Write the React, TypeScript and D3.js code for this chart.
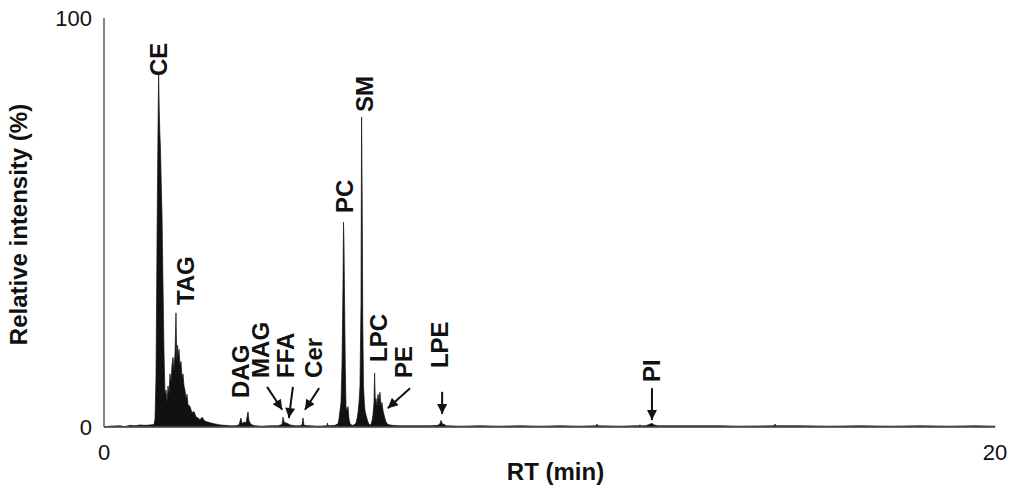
import * as d3 from "d3";
import React, { useRef, useEffect } from "react";

// retention time (min) and relative intensity (%)
const rtValues = [
  0, 0.135, 0.359, 0.471, 0.584, 0.696, 0.808, 0.92, 1.033, 1.122,
  1.145, 1.167, 1.19, 1.201, 1.212, 1.226, 1.239, 1.253, 1.268, 1.284,
  1.302, 1.324, 1.347, 1.369, 1.392, 1.414, 1.437, 1.459, 1.481, 1.504,
  1.526, 1.549, 1.571, 1.594, 1.616, 1.634, 1.65, 1.668, 1.684, 1.706,
  1.728, 1.751, 1.773, 1.796, 1.818, 1.841, 1.863, 1.886, 1.93, 1.975,
  2.02, 2.065, 2.11, 2.155, 2.2, 2.267, 2.334, 2.424, 2.514, 2.604,
  2.716, 2.828, 2.963, 3.03, 3.075, 3.098, 3.143, 3.187, 3.232, 3.255,
  3.3, 3.389, 3.547, 3.726, 3.906, 3.996, 4.018, 4.04, 4.085, 4.13,
  4.175, 4.287, 4.4, 4.444, 4.467, 4.489, 4.624, 4.804, 5.006, 5.017,
  5.028, 5.185, 5.253, 5.275, 5.297, 5.32, 5.342, 5.365, 5.376, 5.387,
  5.401, 5.416, 5.432, 5.455, 5.477, 5.499, 5.522, 5.567, 5.612, 5.657,
  5.679, 5.701, 5.724, 5.746, 5.769, 5.782, 5.796, 5.809, 5.825, 5.843,
  5.859, 5.881, 5.903, 5.926, 5.948, 5.971, 5.993, 6.016, 6.038, 6.061,
  6.074, 6.09, 6.105, 6.128, 6.15, 6.173, 6.195, 6.218, 6.24, 6.263,
  6.285, 6.308, 6.33, 6.375, 6.465, 6.644, 6.869, 7.093, 7.318, 7.497,
  7.542, 7.565, 7.587, 7.609, 7.632, 7.677, 7.991, 8.44, 8.889, 9.338,
  9.787, 10.236, 10.685, 11.044, 11.066, 11.089, 11.582, 11.919, 12.0, 12.031,
  12.06, 12.144, 12.211, 12.278, 12.301, 12.346, 12.435, 12.929, 13.378, 13.827,
  14.276, 15.04, 15.062, 15.085, 15.623, 16.296, 16.97, 17.643, 18.316, 18.99,
  19.551, 20,
];
const intensityValues = [
  0, 0.2, 0.3, 0.1, 0.4, 0.3, 0.5, 0.4, 0.5, 0.6,
  2, 12, 45, 60, 72, 86.8, 78, 72, 68, 60,
  52, 35, 18, 8, 9, 6, 10, 8, 13, 11,
  15, 17, 14, 18, 27.9, 16, 20, 17, 19, 15,
  16, 12, 13, 10, 9, 7, 8, 5.5, 5, 3.5,
  3.8, 2.5, 2.2, 1.8, 2.4, 1.4, 1.2, 0.9, 0.7, 0.5,
  0.4, 0.3, 0.3, 0.5, 2.2, 0.8, 1.2, 1, 3.7, 1.5,
  0.6, 0.3, 0.2, 0.3, 0.3, 0.6, 2.4, 1.2, 1, 0.8,
  0.5, 0.3, 0.3, 0.5, 2.2, 0.4, 0.3, 0.2, 0.3, 1,
  0.3, 0.4, 0.8, 2, 4, 6, 15, 35, 50.1, 45,
  30, 15, 5, 4, 5, 2, 0.8, 0.4, 0.5, 1,
  2, 3.5, 6, 10, 30, 75.8, 55, 25, 10, 6,
  4, 3, 2, 1.2, 0.7, 0.5, 0.6, 1.5, 3, 6,
  13.2, 6, 7, 5, 8, 6.5, 8.5, 5, 6, 4,
  3, 2, 1.2, 0.6, 0.4, 0.3, 0.3, 0.3, 0.3, 0.4,
  0.8, 1.6, 1, 0.6, 0.7, 0.3, 0.2, 0.3, 0.2, 0.3,
  0.2, 0.3, 0.2, 0.3, 0.7, 0.3, 0.2, 0.3, 0.3, 0.5,
  0.3, 0.3, 0.5, 0.8, 0.9, 0.5, 0.3, 0.3, 0.3, 0.3,
  0.2, 0.3, 0.7, 0.3, 0.3, 0.2, 0.3, 0.2, 0.3, 0.2,
  0.3, 0.2,
];

// peak labels: name, rt and intensity where the rotated text starts
const labelNames = ["CE", "TAG", "DAG", "MAG", "FFA", "Cer", "PC", "SM", "LPC", "PE", "LPE", "PI"];
const labelRt = [1.23, 1.82, 3.07, 3.52, 4.06, 4.71, 5.39, 5.84, 6.15, 6.71, 7.52, 12.28];
const labelLevel = [85.8, 29.8, 7.1, 12.0, 12.0, 12.0, 52.3, 77.0, 15.9, 12.0, 14.4, 11.0];

// arrows: from (rt, %) to (rt, %)
const arrowFromRt = [3.66, 4.24, 4.83, 6.87, 7.59, 12.3];
const arrowFromLevel = [9.8, 9.8, 9.5, 9.5, 8.6, 9.5];
const arrowToRt = [4.0, 4.15, 4.51, 6.37, 7.59, 12.3];
const arrowToLevel = [4.2, 2.2, 4.2, 4.6, 3.2, 1.7];

const xTicks = [0, 20];
const yTicks = [0, 100];

const draw = (node: SVGSVGElement) => {
  const width = 1024;
  const height = 493;
  const margin = { top: 18, right: 29, bottom: 66, left: 104 };
  const font = "'Liberation Sans', Arial, sans-serif";

  const svg = d3.select(node);
  svg.selectAll("*").remove();

  const x = d3.scaleLinear().domain([0, 20]).range([margin.left, width - margin.right]);
  const y = d3.scaleLinear().domain([0, 100]).range([height - margin.bottom, margin.top]);

  const points = rtValues.map((t, i) => [t, intensityValues[i]] as [number, number]);

  const area = d3
    .area<[number, number]>()
    .x((d) => x(d[0]))
    .y0(y(0))
    .y1((d) => y(d[1]));

  svg
    .append("defs")
    .append("marker")
    .attr("id", "arrowhead")
    .attr("viewBox", "0 -5 10 10")
    .attr("refX", 10)
    .attr("refY", 0)
    .attr("markerUnits", "userSpaceOnUse")
    .attr("markerWidth", 11)
    .attr("markerHeight", 10)
    .attr("orient", "auto")
    .append("path")
    .attr("d", "M0,-5L10,0L0,5Z")
    .style("fill", "#111");

  // trace
  svg
    .append("path")
    .datum(points)
    .attr("d", area)
    .style("fill", "#111")
    .style("stroke", "#111")
    .style("stroke-width", 0.7);

  // axes
  svg
    .append("line")
    .attr("x1", x(0))
    .attr("x2", x(0))
    .attr("y1", y(100))
    .attr("y2", y(0))
    .style("stroke", "#444")
    .style("stroke-width", 1.3);
  svg
    .append("line")
    .attr("x1", x(0))
    .attr("x2", x(20))
    .attr("y1", y(0))
    .attr("y2", y(0))
    .style("stroke", "#555")
    .style("stroke-width", 1.3);

  svg
    .selectAll(".ytick")
    .data(yTicks)
    .enter()
    .append("text")
    .attr("class", "ytick")
    .attr("x", x(0) - 12)
    .attr("y", (d) => y(d))
    .attr("dy", "0.35em")
    .style("text-anchor", "end")
    .style("font-family", font)
    .style("font-size", "22px")
    .style("fill", "#111")
    .text((d) => d);

  svg
    .selectAll(".xtick")
    .data(xTicks)
    .enter()
    .append("text")
    .attr("class", "xtick")
    .attr("x", (d) => x(d))
    .attr("y", y(0) + 33)
    .style("text-anchor", "middle")
    .style("font-family", font)
    .style("font-size", "22px")
    .style("fill", "#111")
    .text((d) => d);

  svg
    .append("text")
    .attr("x", (x(0) + x(20)) / 2 + 6)
    .attr("y", height - 13)
    .style("text-anchor", "middle")
    .style("font-family", font)
    .style("font-size", "24px")
    .style("font-weight", "bold")
    .style("fill", "#111")
    .text("RT (min)");

  svg
    .append("text")
    .attr("transform", "translate(27," + (y(50) + 2) + ") rotate(-90)")
    .style("text-anchor", "middle")
    .style("font-family", font)
    .style("font-size", "24px")
    .style("font-weight", "bold")
    .style("fill", "#111")
    .text("Relative intensity (%)");

  // peak labels
  svg
    .selectAll(".peak")
    .data(labelNames)
    .enter()
    .append("text")
    .attr("class", "peak")
    .attr(
      "transform",
      (d, i) => "translate(" + x(labelRt[i]) + "," + y(labelLevel[i]) + ") rotate(-90)"
    )
    .attr("dy", "0.36em")
    .style("text-anchor", "start")
    .style("font-family", font)
    .style("font-size", "24px")
    .style("font-weight", "bold")
    .style("fill", "#111")
    .text((d) => d);

  svg
    .selectAll(".arrow")
    .data(arrowFromRt)
    .enter()
    .append("line")
    .attr("class", "arrow")
    .attr("x1", (d) => x(d))
    .attr("y1", (d, i) => y(arrowFromLevel[i]))
    .attr("x2", (d, i) => x(arrowToRt[i]))
    .attr("y2", (d, i) => y(arrowToLevel[i]))
    .style("stroke", "#111")
    .style("stroke-width", 2)
    .attr("marker-end", "url(#arrowhead)");
};

const App = () => {
  const ref = useRef<SVGSVGElement>(null);

  useEffect(() => {
    if (ref.current) draw(ref.current);
  }, []);

  return (
    <svg
      ref={ref}
      width={1024}
      height={493}
      style={{ position: "absolute", left: 0, top: 0, background: "#fff" }}
    />
  );
};

export default App;
